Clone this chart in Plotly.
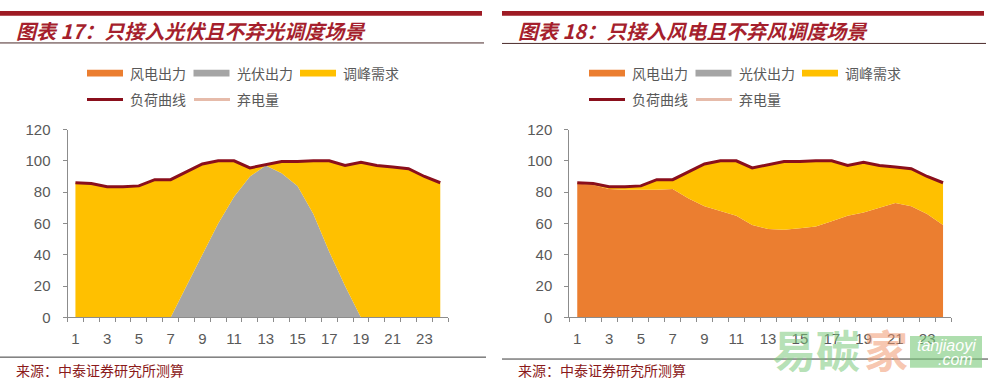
import plotly.graph_objects as go

W, H = 988, 390

hours = list(range(1, 25))
load = [86, 85.5, 83.5, 83.5, 84, 88, 88, 93, 98, 100, 100, 95.5, 97.5, 99.5, 99.5, 100, 100, 97, 99, 97, 96, 95, 90, 86]
wind_left = [0] * 24
pv_left = [0, 0, 0, 0, 0, 0, 0, 20, 40, 60, 77, 90, 97, 92, 84, 66, 42, 20, 0, 0, 0, 0, 0, 0]
wind_right = [85.5, 84.5, 82, 81.5, 81.5, 81.5, 82, 76, 71, 68, 65, 59, 56.5, 56, 57, 58, 61.5, 65, 67, 70, 73, 71, 66, 59]
pv_right = [0] * 24
peak_left = [round(l - w - p, 2) for l, w, p in zip(load, wind_left, pv_left)]
peak_right = [round(l - w - p, 2) for l, w, p in zip(load, wind_right, pv_right)]

x_ticks = list(range(1, 24, 2))
x_bounds = [k + 0.5 for k in range(0, 25)]

titles = ["图表 17：只接入光伏且不弃光调度场景", "图表 18：只接入风电且不弃风调度场景"]
legend_area = ["风电出力", "光伏出力", "调峰需求"]
legend_line = ["负荷曲线", "弃电量"]
source = "来源：中泰证券研究所测算"

ORANGE = "#EB7E30"
GRAY = "#A5A5A5"
GOLD = "#FFC000"
LOAD = "#8A0F1C"
CURT = "#E6BBAA"
AXIS = "#8C8C8C"
TICK = "#595959"
RED = "#A51F2D"

def px(x):
    return x / W

def py(y):
    return 1 - y / H

fig = go.Figure()

panels = [
    dict(xa="x", ya="y", wind=wind_left, pv=pv_left, peak=peak_left, g="a"),
    dict(xa="x2", ya="y2", wind=wind_right, pv=pv_right, peak=peak_right, g="b"),
]
for p in panels:
    for vals, col, name in [(p["wind"], ORANGE, "风电出力"), (p["pv"], GRAY, "光伏出力"), (p["peak"], GOLD, "调峰需求")]:
        fig.add_trace(go.Scatter(x=hours, y=vals, stackgroup=p["g"], mode="none", fillcolor=col,
                                 name=name, showlegend=False, xaxis=p["xa"], yaxis=p["ya"]))
    fig.add_trace(go.Scatter(x=hours, y=load, mode="lines", line=dict(color=LOAD, width=3),
                             name="负荷曲线", showlegend=False, xaxis=p["xa"], yaxis=p["ya"]))

def xaxis(domain, anchor):
    return dict(domain=domain, anchor=anchor, range=[0.5, 24.5], tickmode="array", tickvals=x_ticks,
                ticks="", showline=True, linecolor=AXIS, linewidth=1, showgrid=False, zeroline=False,
                tickfont=dict(family="Liberation Sans, Arial", size=15, color=TICK), ticklabelstandoff=8,
                minor=dict(tickmode="array", tickvals=x_bounds, ticks="outside", ticklen=4, tickcolor=AXIS))

def yaxis(domain, anchor):
    return dict(domain=domain, anchor=anchor, range=[0, 120], dtick=20, ticks="outside", ticklen=4,
                tickcolor=AXIS, showline=True, linecolor=AXIS, linewidth=1, showgrid=False, zeroline=False,
                tickfont=dict(family="Liberation Sans, Arial", size=15, color=TICK), ticklabelstandoff=9)

fig.update_layout(
    width=W, height=H, margin=dict(l=0, r=0, t=0, b=0),
    paper_bgcolor="white", plot_bgcolor="white", showlegend=False,
    xaxis=xaxis([px(67.5), px(448.2)], "y"),
    yaxis=yaxis([py(322.5), py(126)], "x"),
    xaxis2=xaxis([px(569.3), px(951)], "y2"),
    yaxis2=yaxis([py(322.5), py(126)], "x2"),
)

shapes = []
ann = []
for i, off in enumerate([0, 502]):
    # header bar and rules
    shapes.append(dict(type="rect", xref="paper", yref="paper", x0=px(off), x1=px(off + 482), y0=py(7), y1=py(2),
                       fillcolor="#9E1B24", line=dict(width=0)))
    shapes.append(dict(type="line", xref="paper", yref="paper", x0=px(off), x1=px(min(off + 484, W)), y0=py(35.5 + i * 0.5), y1=py(35.5 + i * 0.5),
                       line=dict(color="#4A2A2A", width=1)))
    shapes.append(dict(type="line", xref="paper", yref="paper", x0=px(off), x1=px(min(off + 486, W)), y0=py(364 + i * 2), y1=py(364 + i * 2),
                       line=dict(color="#3A3A3A", width=1)))
    ann.append(dict(text=titles[i], xref="paper", yref="paper", x=px(off + 14), y=py(22), xanchor="left", yanchor="middle",
                    showarrow=False, font=dict(family="Noto Sans CJK SC", size=20, color=RED, weight="bold", style="italic")))
    ann.append(dict(text=source, xref="paper", yref="paper", x=px(off + 14), y=py(377), xanchor="left", yanchor="middle",
                    showarrow=False, font=dict(family="Noto Sans CJK SC", size=14, color="#8B1A1A")))
    # legend row 1 (area swatches)
    for j, (lab, col) in enumerate(zip(legend_area, [ORANGE, GRAY, GOLD])):
        x0 = off + 87 + j * 106.5
        shapes.append(dict(type="rect", xref="paper", yref="paper", x0=px(x0), x1=px(x0 + 36), y0=py(70.5), y1=py(63.5),
                           fillcolor=col, line=dict(width=0)))
        ann.append(dict(text=lab, xref="paper", yref="paper", x=px(x0 + 41), y=py(67), xanchor="left", yanchor="middle",
                        showarrow=False, font=dict(family="Noto Sans CJK SC", size=14, color="#595959")))
    # legend row 2 (lines)
    for j, (lab, col) in enumerate(zip(legend_line, [LOAD, CURT])):
        x0 = off + 87 + j * 107
        shapes.append(dict(type="line", xref="paper", yref="paper", x0=px(x0), x1=px(x0 + 36), y0=py(94.5), y1=py(94.5),
                           line=dict(color=col, width=3)))
        ann.append(dict(text=lab, xref="paper", yref="paper", x=px(x0 + 41), y=py(94), xanchor="left", yanchor="middle",
                        showarrow=False, font=dict(family="Noto Sans CJK SC", size=14, color="#595959")))

# watermark
ann.append(dict(text="易碳", xref="paper", yref="paper", x=px(770), y=py(355), xanchor="left", yanchor="middle",
                showarrow=False, font=dict(family="Noto Sans CJK SC", size=44, color="rgba(120,200,120,0.55)", weight="bold")))
ann.append(dict(text="家", xref="paper", yref="paper", x=px(862), y=py(355), xanchor="left", yanchor="middle",
                showarrow=False, font=dict(family="Noto Sans CJK SC", size=44, color="rgba(240,150,110,0.55)", weight="bold")))
shapes.append(dict(type="rect", xref="paper", yref="paper", x0=px(910), x1=px(982), y0=py(375), y1=py(342),
                   fillcolor="rgba(120,200,120,0.6)", line=dict(width=0)))
ann.append(dict(text="tanjiaoyi", xref="paper", yref="paper", x=px(946), y=py(352), xanchor="center", yanchor="middle",
                showarrow=False, font=dict(family="Liberation Sans", size=16, color="white", style="italic")))
ann.append(dict(text=".com", xref="paper", yref="paper", x=px(955), y=py(366), xanchor="center", yanchor="middle",
                showarrow=False, font=dict(family="Liberation Sans", size=16, color="white", style="italic")))

fig.update_layout(shapes=shapes, annotations=ann)
fig.write_html("out.html", config={"displayModeBar": False},
               post_script="document.body.style.margin='0';document.body.style.overflow='hidden';")
